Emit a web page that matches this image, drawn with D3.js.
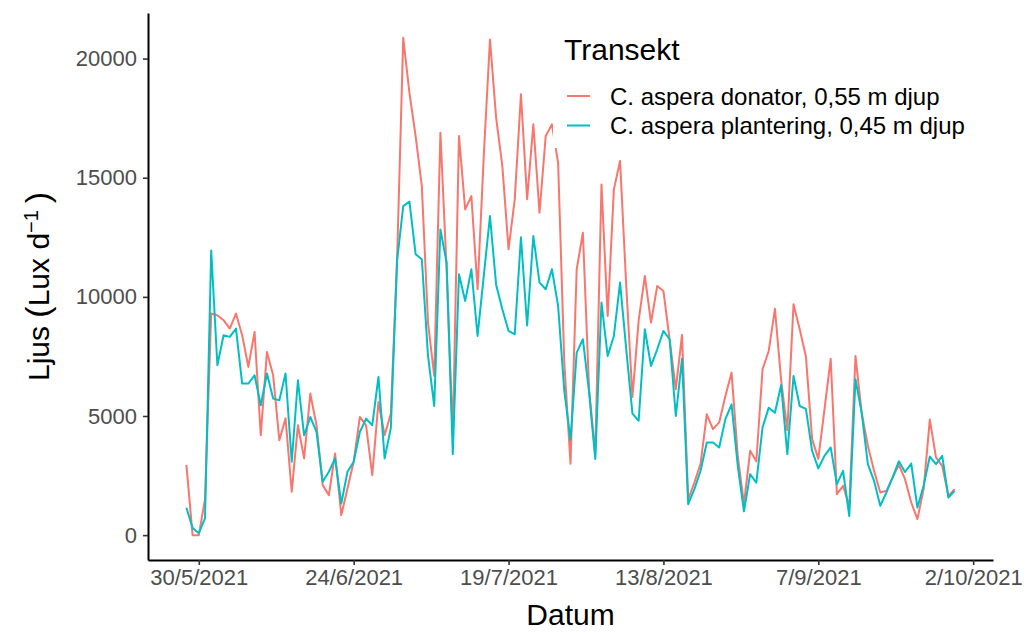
<!DOCTYPE html>
<html><head><meta charset="utf-8">
<script src="https://cdn.jsdelivr.net/npm/d3@7/dist/d3.min.js"></script>
<style>
body{margin:0;background:#fff}
text{font-family:"Liberation Sans",Arial,sans-serif}
</style>
</head><body>
<svg id="chart" width="1031" height="633"></svg>
<script>
// ---- data ----
const startDate = "2021-05-28"; // first daily observation
const donator = [2950,0,0,1500,9300,9230,9020,8670,9300,8390,7060,8530,4190,7690,6710,3980,4900,1820,4610,3220,
5940,4610,2100,1680,3430,840,1960,3080,4960,4610,2520,5590,4190,5100,11500,20870,18560,16750,14650,8920,
6680,16890,11160,4200,16750,13670,14230,10320,15910,20800,17500,15490,12000,14090,18500,14100,17240,13530,16750,17240,
15630,7240,3000,11160,12690,6120,3400,14720,9200,14510,15700,10460,5800,9000,10880,8920,10460,10250,8220,6120,
8400,1510,2210,3000,5070,4450,4730,5840,6820,3330,1300,3540,3100,6960,7730,9500,6500,4400,9690,8640,
7500,4030,3200,5280,7400,1720,2070,1200,7520,5140,3750,2700,1790,1860,2420,2950,2350,1370,670,1930,
4850,3260,2910,1650,1930];
const plantering = [1150,300,80,700,11950,7130,8390,8320,8670,6360,6360,6710,5450,6780,5730,5660,6780,3080,6500,4190,
4960,4330,2240,2660,3220,1330,2660,3080,4330,4890,4610,6640,3220,4500,11500,13810,14000,11790,11580,7520,
5420,12830,11440,3400,10950,9830,11160,8360,10880,13390,10500,9480,8570,8430,12500,8800,12550,10600,10320,11160,
9620,6050,4000,7660,8220,6000,3200,9760,7520,8360,10600,7800,5100,4800,8640,7100,7800,8570,8220,5000,
7400,1300,1930,2700,3890,3890,3680,4870,5490,2910,1000,2560,2200,4520,5350,5140,6300,3400,6680,5420,
5300,3540,2800,3330,3680,2140,2700,800,6540,5140,2980,2280,1230,1790,2420,3100,2650,3000,1160,2070,
3300,2980,3330,1580,1860];
const seriesNames = ["C. aspera donator, 0,55 m djup", "C. aspera plantering, 0,45 m djup"];
const seriesColors = ["#F8766D", "#00BFC4"];
const xTickDates = ["2021-05-30","2021-06-24","2021-07-19","2021-08-13","2021-09-07","2021-10-02"];
const xTickLabels = ["30/5/2021","24/6/2021","19/7/2021","13/8/2021","7/9/2021","2/10/2021"];
const yTicks = [0, 5000, 10000, 15000, 20000];
const legendTitle = "Transekt";
const xTitle = "Datum";

(function () {
const parse = d3.timeParse("%Y-%m-%d");
const d0 = parse(startDate);
const dates = donator.map((_, i) => d3.timeDay.offset(d0, i));
const series = [donator, plantering].map((vals, k) => ({
  name: seriesNames[k], color: seriesColors[k],
  values: vals.map((v, i) => ({date: dates[i], value: v}))
}));

const svg = d3.select("#chart");
const pL = 148, pR = 993, pT = 13, pB = 560;

const xExt = d3.extent(dates);
const xPad = (xExt[1] - xExt[0]) * 0.05;
const x = d3.scaleTime()
  .domain([new Date(+xExt[0] - xPad), new Date(+xExt[1] + xPad)])
  .range([pL, pR]);

const allVals = donator.concat(plantering);
const yLo = d3.min(allVals), yHi = d3.max(allVals);
const yPad = (yHi - yLo) * 0.05;
const y = d3.scaleLinear().domain([yLo - yPad, yHi + yPad]).range([pB, pT]);

const line = d3.line().x(d => x(d.date)).y(d => y(d.value));

svg.append("g").selectAll("path").data(series).join("path")
  .attr("d", d => line(d.values))
  .attr("fill", "none")
  .attr("stroke", d => d.color)
  .attr("stroke-width", 2)
  .attr("stroke-linejoin", "round");

const tickFont = "22px";
const xAxis = d3.axisBottom(x)
  .tickValues(xTickDates.map(parse))
  .tickFormat((d, i) => xTickLabels[i])
  .tickSizeInner(5).tickSizeOuter(0).tickPadding(4);
const gx = svg.append("g").attr("transform", `translate(0,${pB})`).call(xAxis);
gx.select(".domain").attr("stroke", "#000").attr("stroke-width", 2);
gx.selectAll(".tick line").attr("stroke", "#333").attr("stroke-width", 1.6);
gx.selectAll(".tick text").attr("fill", "#4d4d4d").style("font-size", tickFont)
  .attr("font-family", "Liberation Sans, Arial, sans-serif");

const yAxis = d3.axisLeft(y).tickValues(yTicks).tickFormat(d3.format("d"))
  .tickSizeInner(5).tickSizeOuter(0).tickPadding(6);
const gy = svg.append("g").attr("transform", `translate(${pL},0)`).call(yAxis);
gy.select(".domain").attr("stroke", "#000").attr("stroke-width", 2);
gy.selectAll(".tick line").attr("stroke", "#333").attr("stroke-width", 1.6);
gy.selectAll(".tick text").attr("fill", "#4d4d4d").style("font-size", tickFont)
  .attr("font-family", "Liberation Sans, Arial, sans-serif");

svg.append("text").attr("x", (pL + pR) / 2).attr("y", 625)
  .attr("text-anchor", "middle").style("font-size", "30px").attr("fill", "#000").text(xTitle);

const yt = svg.append("text")
  .attr("transform", `translate(49,${(pT + pB) / 2}) rotate(-90)`)
  .attr("text-anchor", "middle").style("font-size", "30px").attr("fill", "#000");
yt.append("tspan").text("Ljus ");
yt.append("tspan").style("font-size", "34px").text("(");
yt.append("tspan").text("Lux d");
yt.append("tspan").attr("dy", -11).style("font-size", "20px").text("\u22121");
yt.append("tspan").attr("dy", 11).style("font-size", "34px").text("\u2009)");

const lg = svg.append("g");
lg.append("rect").attr("x", 553).attr("y", 28).attr("width", 428).attr("height", 120).attr("fill", "#fff");
lg.append("text").attr("x", 564).attr("y", 60).style("font-size", "30px").attr("fill", "#000").text(legendTitle);
const items = lg.selectAll("g.item").data(series).join("g").attr("class", "item")
  .attr("transform", (d, i) => `translate(0,${96 + i * 29.5})`);
items.append("line").attr("x1", 567).attr("x2", 590).attr("y1", 0).attr("y2", 0)
  .attr("stroke", d => d.color).attr("stroke-width", 2);
items.append("text").attr("x", 610).attr("y", 8.5).style("font-size", "24px").attr("fill", "#000")
  .text(d => d.name);
})();
</script>
</body></html>
